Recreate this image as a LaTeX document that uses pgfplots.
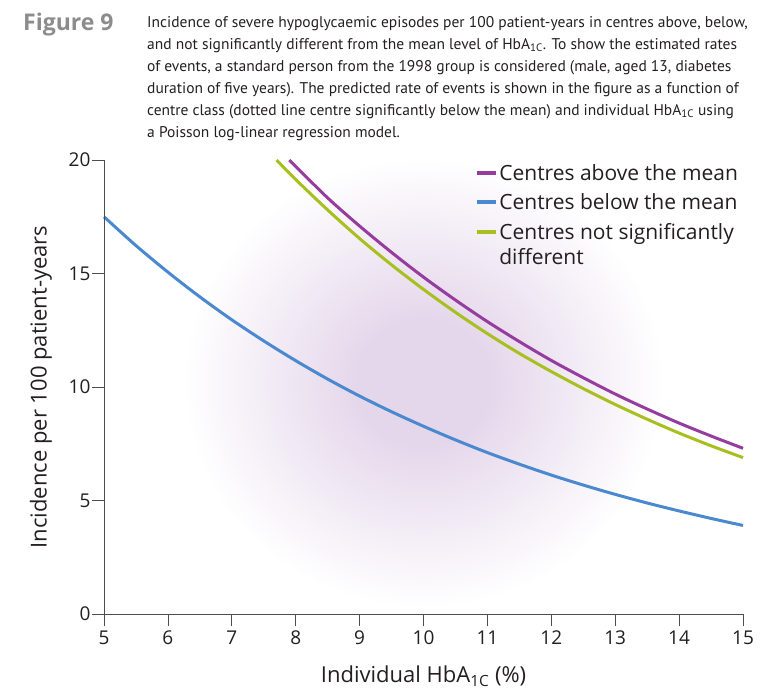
\documentclass[border=0pt]{standalone}
\usepackage{pgfplots}
\pgfplotsset{compat=1.18}
\usepackage{fontspec}
\setmainfont{Open Sans}
\newfontfamily\capfont{PT Sans}
\definecolor{cpurple}{HTML}{963C9E}
\definecolor{cblue}{HTML}{4A88D0}
\definecolor{cgreen}{HTML}{A8BF20}
\definecolor{cblob}{HTML}{E5D7EB}
\definecolor{ctitle}{HTML}{8C8C8C}
\definecolor{ctext}{HTML}{231F20}
\pgfdeclareradialshading{blob}{\pgfpoint{0bp}{0bp}}{color(0bp)=(cblob); color(7bp)=(cblob); color(25bp)=(white); color(50bp)=(white)}
\begin{document}
\begin{tikzpicture}
\path (0pt,0pt) rectangle (765pt,687pt);
\node[anchor=base west, inner sep=0pt, font=\fontsize{23}{26}\selectfont\bfseries, text=ctitle] at (23pt,656pt) {Figure 9};
\node[anchor=north west, inner sep=0pt, align=left, font=\capfont\fontsize{15.5}{22}\selectfont, text=ctext] at (147pt,671pt)
{Incidence of severe hypoglycaemic episodes per 100 patient-years in centres above, below,\\
and not significantly different from the mean level of HbA\textsubscript{1C}. To show the estimated rates\\
of events, a standard person from the 1998 group is considered (male, aged 13, diabetes\\
duration of five years). The predicted rate of events is shown in the figure as a function of\\
centre class (dotted line centre significantly below the mean) and individual HbA\textsubscript{1C} using\\
a Poisson log-linear regression model.};
\begin{axis}[
  at={(104pt,73pt)}, anchor=south west,
  scale only axis, width=639pt, height=454pt,
  xmin=5, xmax=15, ymin=0, ymax=20,
  axis lines=left,
  axis on top,
  axis line style={-, line width=0.8pt, color=ctext!80},
  xtick={5,...,15}, ytick={0,5,10,15,20},
  tick style={line width=0.8pt, color=ctext!80},
  tick align=outside,
  major tick length=12pt,
  tick label style={font=\fontsize{19}{22}\selectfont, text=ctext},
  /pgf/number format/assume math mode=true,
  xticklabel style={yshift=-1pt},
  yticklabel style={xshift=2pt},
  xlabel={Individual HbA\textsubscript{1C} (\%)},
  ylabel={Incidence per 100 patient-years},
  label style={font=\fontsize{22}{25}\selectfont, text=ctext},
  xlabel style={yshift=-14pt},
  ylabel style={yshift=10pt},
  clip=false,
  legend style={at={(0.58,0.995)}, anchor=north west, draw=none, fill=none,
    font=\fontsize{21}{25}\selectfont, text=ctext, row sep=7.5pt,
    inner sep=0pt},
  legend cell align=left,
  legend image code/.code={\draw[#1, line width=3.5pt] (0pt,0pt) -- (19pt,0pt);},
]
\begin{scope}
\clip (rel axis cs:0,0) rectangle (rel axis cs:1,1);
\path[shading=blob] (axis cs:10,10.2) ellipse [x radius=240pt, y radius=225pt];
\end{scope}
\addplot[cpurple, line width=3pt, smooth] coordinates {
(7.9,20) (8,19.72) (8.5,18.33) (9,17.09) (9.5,15.93) (10,14.84) (10.5,13.83) (11,12.88) (11.5,12.00) (12,11.17) (12.5,10.41) (13,9.69) (13.5,9.03) (14,8.41) (14.5,7.84) (15,7.30)};
\addlegendentry{Centres above the mean}
\addplot[cblue, line width=3pt, smooth] coordinates {
(5,17.5) (5.5,16.23) (6,15.06) (6.5,13.97) (7,12.96) (7.5,12.03) (8,11.16) (8.5,10.35) (9,9.60) (9.5,8.91) (10,8.27) (10.5,7.67) (11,7.11) (11.5,6.60) (12,6.12) (12.5,5.68) (13,5.27) (13.5,4.89) (14,4.54) (14.5,4.21) (15,3.90)};
\addlegendentry{Centres below the mean}
\addplot[cgreen, line width=3pt, smooth] coordinates {
(7.7,20) (8,19.14) (8.5,17.80) (9,16.54) (9.5,15.38) (10,14.30) (10.5,13.29) (11,12.35) (11.5,11.48) (12,10.68) (12.5,9.93) (13,9.23) (13.5,8.58) (14,7.97) (14.5,7.41) (15,6.89)};
\addlegendentry{\begin{tabular}[t]{@{}l@{}}Centres not significantly\\[0pt] different\end{tabular}}
\end{axis}
\end{tikzpicture}
\end{document}
